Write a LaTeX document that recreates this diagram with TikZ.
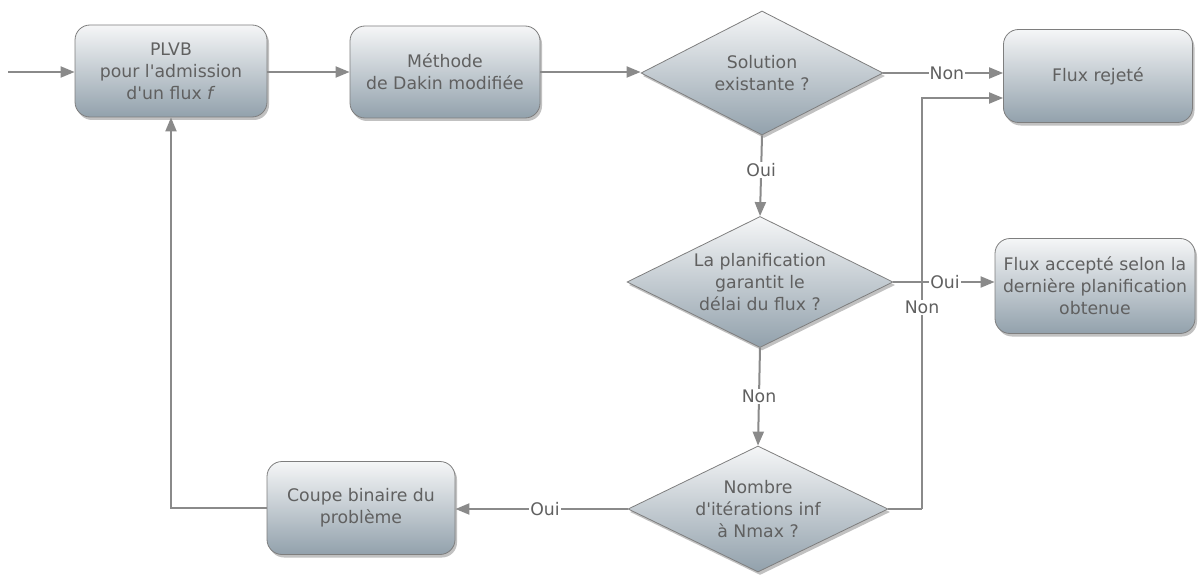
\documentclass[tikz,border=0pt]{standalone}
\usepackage{fontspec}
\setmainfont{DejaVu Sans}[Ligatures=TeXOff]
\usetikzlibrary{shapes.geometric,arrows.meta,shadows}
\definecolor{txt}{HTML}{606060}
\definecolor{ln}{HTML}{8A8A8A}
\definecolor{brd}{HTML}{7E7E7E}
\definecolor{topc}{HTML}{F5F6F7}
\definecolor{botc}{HTML}{92A1AC}
\begin{document}
\begin{tikzpicture}[x=1pt,y=-1pt,
  every node/.style={font=\fontsize{17.3}{22}\selectfont, text=txt},
  shade/.style={top color=topc, bottom color=botc,
    drop shadow={shadow xshift=2pt, shadow yshift=-3pt, opacity=0.35, fill=black!70}},
  boxn/.style={shade, rectangle, rounded corners=15pt, draw=brd, line width=0.8pt,
    align=center, inner sep=0pt},
  dec/.style={shade, diamond, shape aspect=2, draw=brd, line width=0.8pt,
    align=center, inner sep=0pt},
  conn/.style={draw=ln, line width=2pt, -{Triangle[length=14pt,width=11pt]}},
  plain/.style={draw=ln, line width=2pt},
  lbl/.style={fill=white, inner sep=1pt}
]
\useasboundingbox (0,0) rectangle (1198,575);

\node[boxn, minimum width=192pt, minimum height=92pt] (b1) at (171,71)
  {PLVB\\pour l'admission\\d'un flux \textit{f}};
\node[boxn, minimum width=190pt, minimum height=92pt] (b2) at (445,72)
  {Méthode\\de Dakin modifiée};
\node[dec, minimum width=242pt, minimum height=124pt] (d1) at (762,73)
  {Solution\\existante ?};
\node[boxn, minimum width=189pt, minimum height=93pt] (r) at (1098,76)
  {Flux rejeté};
\node[dec, minimum width=266pt, minimum height=131pt] (d2) at (760,282)
  {La planification\\garantit le\\délai du flux ?};
\node[boxn, minimum width=200pt, minimum height=95pt] (a) at (1095,286)
  {Flux accepté selon la\\dernière planification\\obtenue};
\node[dec, minimum width=260pt, minimum height=126pt] (d3) at (758,509)
  {Nombre\\d'itérations inf\\à Nmax ?};
\node[boxn, minimum width=188pt, minimum height=93pt] (c) at (361,508)
  {Coupe binaire du\\problème};

\coordinate (in) at (8,72);
\coordinate (k1) at (922,509);
\coordinate (k2) at (922,98);

\draw[conn] (in) -- (in -| b1.west);
\draw[conn] (b1.east |- b2.west) -- (b2.west);
\draw[conn] (b2.east) -- (b2.east -| d1.west);
\draw[conn] (d1.east) -- node[lbl, pos=0.53]{Non} (d1.east -| r.west);
\draw[conn] (d1.south) -- node[lbl, pos=0.43]{Oui} (d2.north);
\draw[conn] (d2.east) -- node[lbl, pos=0.51]{Oui} (d2.east -| a.west);
\draw[conn] (d2.south) -- node[lbl, pos=0.5]{Non} (d3.north);
\draw[plain] (d3.east) -- (k1);
\draw[conn] (k1) -- node[lbl, pos=0.49]{Non} (k2) -- (k2 -| r.west);
\draw[conn] (d3.west) -- node[lbl, pos=0.48]{Oui} (d3.west -| c.east);
\draw[conn] (c.west) -| (b1.south);
\end{tikzpicture}
\end{document}
